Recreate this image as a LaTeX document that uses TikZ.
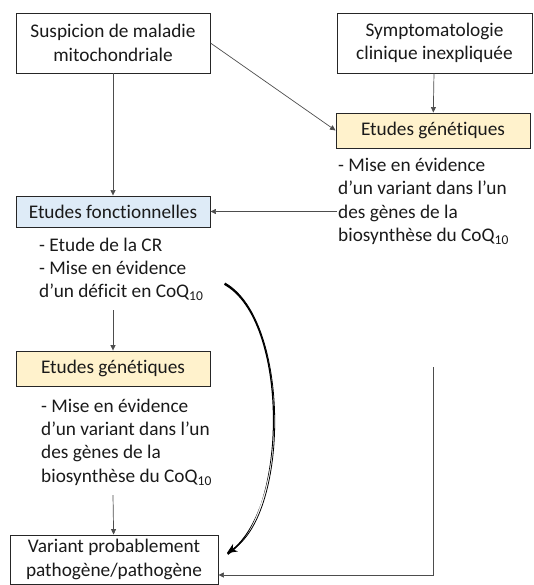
\documentclass[tikz,border=0pt]{standalone}
\usepackage{fontspec}
\setmainfont{Carlito}[RawFeature={-liga;-calt;-dlig}]
\usetikzlibrary{arrows.meta}
\definecolor{txt}{HTML}{1A1A1A}
\definecolor{bluefill}{HTML}{DEEBF7}
\definecolor{yelfill}{HTML}{FFF2CC}
\definecolor{edge}{HTML}{262626}
\definecolor{lineg}{HTML}{4D4D4D}
\begin{document}
\begin{tikzpicture}[x=1pt,y=-1pt,
  every node/.style={text=txt,font=\fontsize{19.3}{23.3}\selectfont},
  whitebox/.style={draw=edge,line width=0.9pt,fill=white,minimum width=194pt,align=center,inner sep=0pt},
  yelbox/.style={draw=edge,line width=0.9pt,fill=yelfill,minimum width=194pt,minimum height=35pt,inner sep=0pt},
  bluebox/.style={draw=edge,line width=0.9pt,fill=bluefill,minimum width=194pt,minimum height=31pt,inner sep=0pt},
  bodytext/.style={anchor=north west,align=left,inner sep=0pt},
  conn/.style={draw=lineg,line width=0.7pt,-{Triangle[length=5.5pt,width=5pt]}},
  bigarrow/.style={draw=black,line width=0.8pt,-{Stealth[length=10pt,width=9pt]}},
  taper/.style={fill=black,draw=none}]
\useasboundingbox (0,0) rectangle (534,585);
\node[whitebox,minimum height=60pt] (s1) at (113,43) {Suspicion de maladie\\mitochondriale};
\node[whitebox,minimum height=60pt,minimum width=195pt] (s2) at (434.5,43) {Symptomatologie\\clinique inexpliquée};
\node[yelbox] (g1) at (433,130.5) {Etudes génétiques};
\node[bodytext] (t1) at (338,158) {- Mise en évidence\\d’un variant dans l’un\\des gènes de la\\biosynthèse du CoQ\textsubscript{10}};
\node[bluebox] (f) at (113,211.5) {Etudes fonctionnelles};
\node[bodytext] (t2) at (39,237.5) {- Etude de la CR\\- Mise en évidence\\d’un déficit en CoQ\textsubscript{10}};
\node[yelbox] (g2) at (113,368.5) {Etudes génétiques};
\node[bodytext] (t3) at (41,398.5) {- Mise en évidence\\d’un variant dans l’un\\des gènes de la\\biosynthèse du CoQ\textsubscript{10}};
\node[whitebox,minimum height=49pt,minimum width=208pt] (b) at (114,559.5) {Variant probablement\\pathogène/pathogène};
\coordinate (a1) at (113,310);
\coordinate (a2) at (113,495);
\coordinate (r1) at (337,211.5);
\coordinate (v1) at (433,367);
\coordinate (v2) at (433,575);
\coordinate (c1) at (225,283);
\coordinate (c2) at (227,553);
\draw[conn] (s1) -- (f);
\draw[conn] (s1.east) -- (g1.west);
\draw[conn] (s2) -- (g1);
\draw[conn] (r1) -- (f.east);
\draw[conn] (a1) -- (g2);
\draw[conn] (a2) -- (b);
\draw[conn] (v1) -- (v2) -- (b.east |- v2);
\fill[taper] (c1) .. controls (290,320) and (290,513) .. (c2)
  -- ([shift={(1.2,1.8)}]c2) .. controls (288.5,513) and (288.5,320) .. ([shift={(-1,1.8)}]c1) -- cycle;
\draw[bigarrow] (c1) .. controls (290,320) and (290,513) .. (c2);
\end{tikzpicture}
\end{document}
